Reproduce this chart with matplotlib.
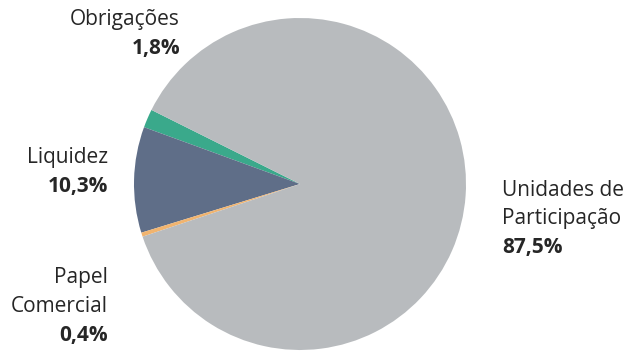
import matplotlib
matplotlib.use("Agg")
import matplotlib.pyplot as plt

categories = ["Obrigações", "Liquidez", "Papel Comercial", "Unidades de Participação"]
values = [1.8, 10.3, 0.4, 87.5]
labels = ["Obrigações\n$\\bf{1{,}8\\%}$", "Liquidez\n10,3%", "Papel\nComercial\n0,4%", "Unidades de\nParticipação\n87,5%"]
pct_labels = ["1,8%", "10,3%", "0,4%", "87,5%"]
name_lines = [["Obrigações"], ["Liquidez"], ["Papel", "Comercial"], ["Unidades de", "Participação"]]
colors = ["#3aa98b", "#5f6e88", "#f1b46f", "#b8bbbe"]

W, H = 627, 355
fig = plt.figure(figsize=(W / 100, H / 100), dpi=100)
ax = fig.add_axes([0, 0, 1, 1])
ax.set_xlim(0, W)
ax.set_ylim(0, H)
ax.set_aspect("equal")
ax.axis("off")

ax.pie(values, colors=colors, startangle=153.5, counterclock=True,
       center=(300, H - 184), radius=166, frame=True,
       wedgeprops=dict(linewidth=0))
ax.set_xlim(0, W)
ax.set_ylim(0, H)
ax.axis("off")

font = "Open Sans"
fs = 15
# label anchor positions: (x, y of first line top-based px, ha)
anchors = [(180, 20, "right"), (108, 158, "right"), (108, 278, "right"), (502, 190, "left")]
step = 28.5
for (x, y0, ha), names, pct in zip(anchors, name_lines, pct_labels):
    for i, nm in enumerate(names):
        ax.text(x, H - (y0 + i * step), nm, ha=ha, va="center", fontsize=fs,
                family=font, color="#262626")
    ax.text(x, H - (y0 + len(names) * step), pct, ha=ha, va="center", fontsize=fs,
            family=font, fontweight="bold", color="#262626")

fig.savefig("out.png", dpi=100)
